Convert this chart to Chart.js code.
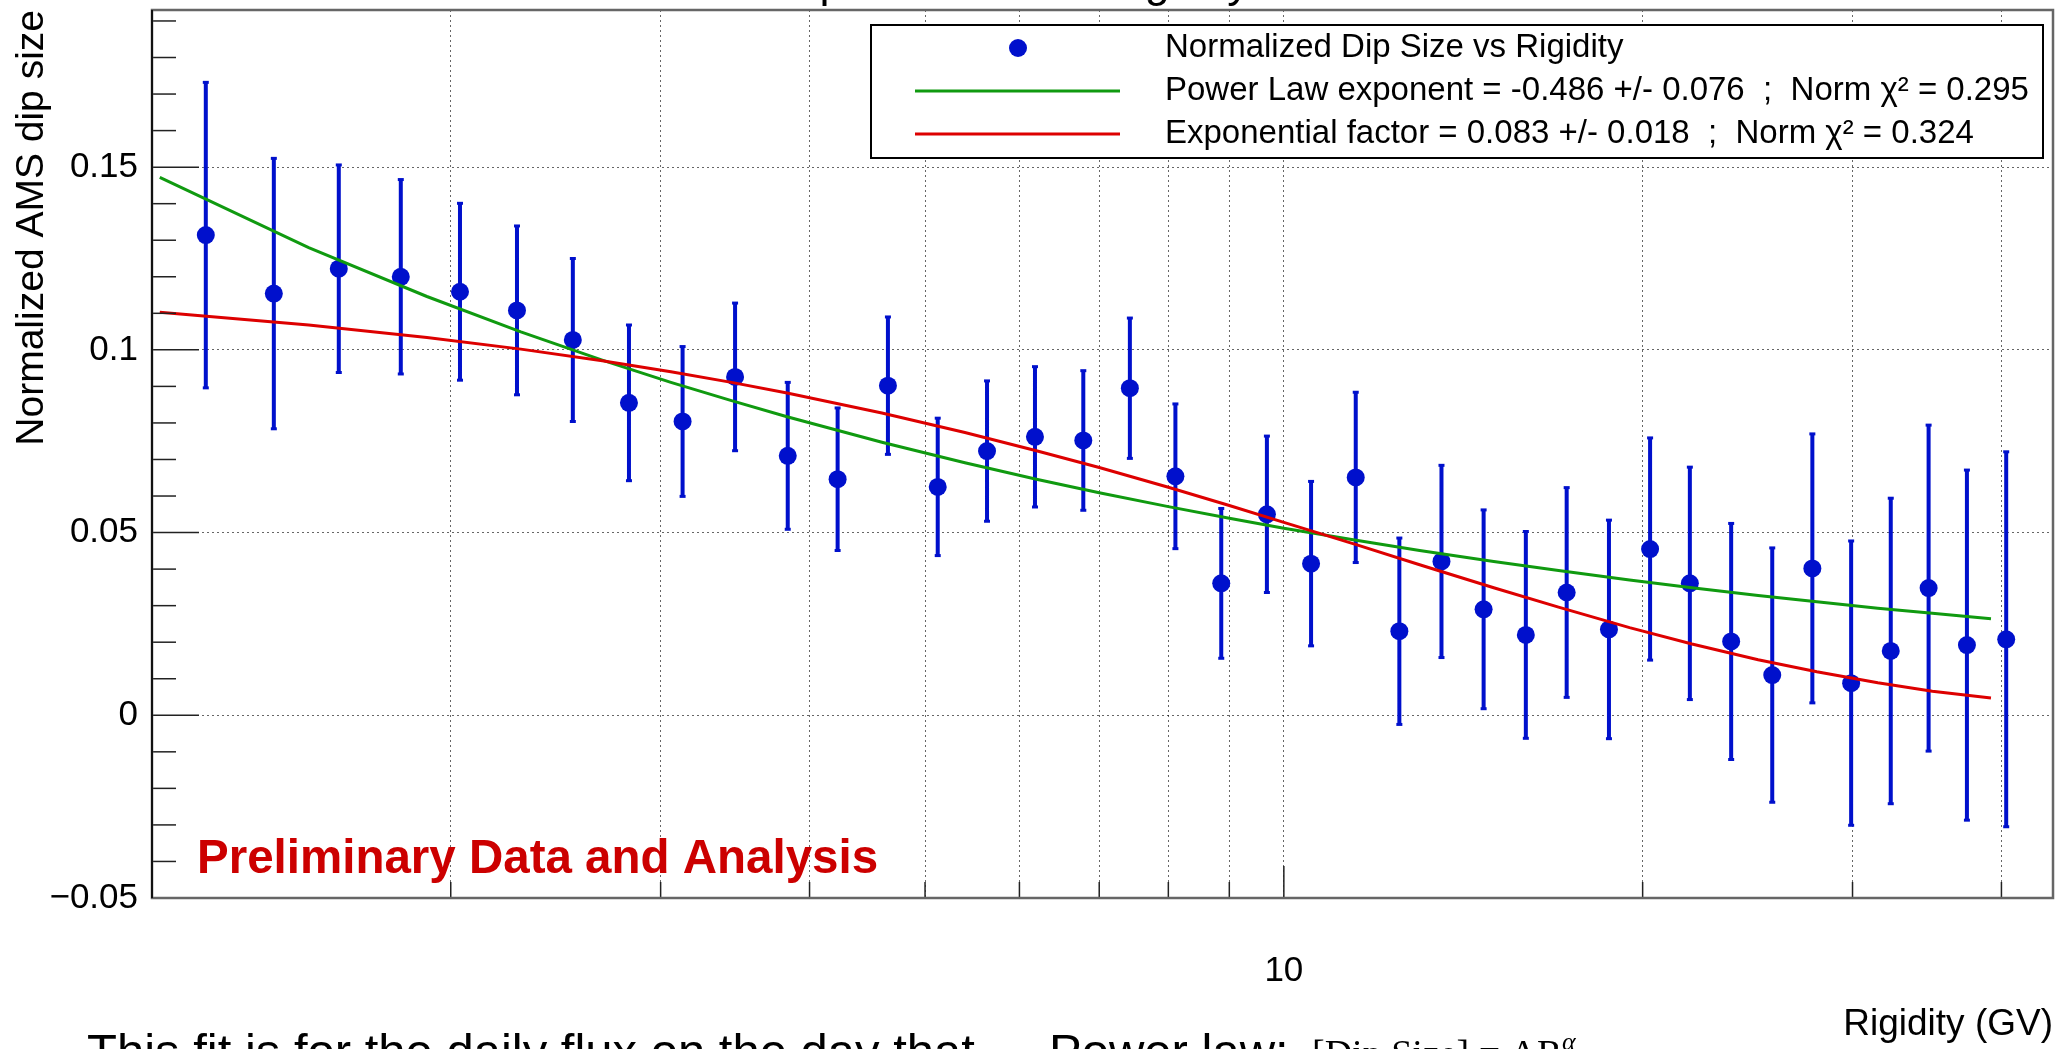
<!DOCTYPE html>
<html>
<head>
<meta charset="utf-8">
<script src="https://cdn.jsdelivr.net/npm/chart.js@4"></script>
<style>
  html, body { margin: 0; padding: 0; background: #fff; overflow: hidden; }
  canvas { display: block; }
</style>
</head>
<body>
<canvas id="chart" width="2062" height="1049"></canvas>
<script>
// Rigidity bins (GV) with normalized AMS dip size and its error
const rigidity = [1.246, 1.421, 1.611, 1.816, 2.036, 2.273, 2.532, 2.822, 3.130, 3.464, 3.835, 4.223, 4.654, 5.124, 5.636, 6.183, 6.788, 7.427, 8.110, 8.861, 9.678, 10.54, 11.49, 12.50, 13.56, 14.71, 15.96, 17.27, 18.74, 20.29, 21.91, 23.73, 25.69, 27.76, 29.92, 32.30, 34.75, 37.42, 40.37];
const dipSize = [0.1314, 0.1154, 0.1222, 0.1200, 0.1159, 0.1108, 0.1027, 0.0855, 0.0804, 0.0926, 0.0710, 0.0646, 0.0902, 0.0625, 0.0723, 0.0762, 0.0752, 0.0895, 0.0654, 0.0361, 0.0550, 0.0415, 0.0651, 0.0230, 0.0421, 0.0290, 0.0220, 0.0336, 0.0235, 0.0455, 0.0361, 0.0202, 0.0110, 0.0402, 0.0088, 0.0176, 0.0348, 0.0192, 0.0208];
const dipErr = [0.0418, 0.0370, 0.0284, 0.0266, 0.0242, 0.0231, 0.0223, 0.0213, 0.0205, 0.0202, 0.0201, 0.0195, 0.0188, 0.0188, 0.0192, 0.0192, 0.0191, 0.0192, 0.0198, 0.0205, 0.0214, 0.0225, 0.0233, 0.0255, 0.0263, 0.0272, 0.0283, 0.0287, 0.0299, 0.0304, 0.0318, 0.0323, 0.0348, 0.0368, 0.0389, 0.0418, 0.0446, 0.0479, 0.0513];

// Fitted curves sampled over the fit range
const fitRigidity = [1.14, 1.52, 1.91, 2.29, 2.68, 3.06, 3.44, 3.83, 4.6, 5.4, 6.2, 7.0, 8.0, 9.0, 10, 11.5, 13, 15, 17, 19.5, 22, 25, 28, 31.5, 35, 39.2];
const powerLawFit = [0.1472, 0.1280, 0.1146, 0.1049, 0.0972, 0.0911, 0.0861, 0.0817, 0.0747, 0.0691, 0.0646, 0.0609, 0.0571, 0.0539, 0.0512, 0.0479, 0.0451, 0.0421, 0.0396, 0.0370, 0.0349, 0.0328, 0.0311, 0.0293, 0.0279, 0.0264];
const expFit = [0.1103, 0.1068, 0.1034, 0.1002, 0.0970, 0.0940, 0.0911, 0.0882, 0.0827, 0.0774, 0.0724, 0.0678, 0.0624, 0.0574, 0.0528, 0.0467, 0.0412, 0.0349, 0.0296, 0.0240, 0.0195, 0.0152, 0.0119, 0.0089, 0.0066, 0.0047];

// Axis ticks
const xTickValues = [2, 3, 4, 5, 6, 7, 8, 9, 10, 20, 30, 40];
const xTickLabels = { 10: "10" };
const yMajorValues = [0.15, 0.1, 0.05, 0, -0.05];
const yMajorLabels = ["0.15", "0.1", "0.05", "0", "\u22120.05"];

const legendLabels = [
    "Normalized Dip Size vs Rigidity",
    "Power Law exponent = -0.486 +/- 0.076  ;  Norm \u03c7\u00b2 = 0.295",
    "Exponential factor = 0.083 +/- 0.018  ;  Norm \u03c7\u00b2 = 0.324"
];

const BLUE = "#0010cc";
const GREEN = "#109a10";
const RED = "#dd0000";
const SANS = "'Liberation Sans', Arial, sans-serif";
const SERIF = "'Liberation Serif', 'Times New Roman', serif";

function isMajorY(v) {
    return yMajorValues.some(m => Math.abs(m - v) < 1e-9);
}

// error bars as one broken line: low end, high end, gap
let errorSegments = [];
for (let i = 0; i < rigidity.length; i++) {
    errorSegments.push({ x: rigidity[i], y: dipSize[i] - dipErr[i] });
    errorSegments.push({ x: rigidity[i], y: dipSize[i] + dipErr[i] });
    errorSegments.push({ x: rigidity[i], y: null });
}

const points = rigidity.map((r, i) => ({ x: r, y: dipSize[i] }));
const powerLawPoints = fitRigidity.map((r, i) => ({ x: r, y: powerLawFit[i] }));
const expPoints = fitRigidity.map((r, i) => ({ x: r, y: expFit[i] }));

function line(ctx, x1, y1, x2, y2) {
    ctx.beginPath();
    ctx.moveTo(x1, y1);
    ctx.lineTo(x2, y2);
    ctx.stroke();
}

// frame, inner tick marks, legend and the free texts
const rootStyle = {
    id: "rootStyle",
    afterDraw(chart) {
        const { ctx, chartArea: a, scales: { x, y } } = chart;
        ctx.save();

        ctx.strokeStyle = "#222";
        ctx.lineWidth = 1.5;
        y.ticks.forEach(t => {
            const py = y.getPixelForValue(t.value);
            line(ctx, a.left, py, a.left + (isMajorY(t.value) ? 47 : 24), py);
        });
        x.ticks.forEach(t => {
            const px = x.getPixelForValue(t.value);
            line(ctx, px, a.bottom, px, a.bottom - (t.value === 10 ? 32 : 16));
        });

        ctx.strokeStyle = "#666";
        ctx.lineWidth = 2.5;
        ctx.strokeRect(a.left, a.top, a.right - a.left, a.bottom - a.top);
        ctx.strokeStyle = "#111";
        ctx.lineWidth = 2;
        line(ctx, a.left, a.top, a.left, a.bottom);

        // y axis title, right-aligned to the top of the axis
        ctx.save();
        ctx.translate(43, a.top);
        ctx.rotate(-Math.PI / 2);
        ctx.fillStyle = "#000";
        ctx.font = "39px " + SANS;
        ctx.textAlign = "right";
        ctx.textBaseline = "alphabetic";
        ctx.fillText("Normalized AMS dip size", 0, 0);
        ctx.restore();

        // legend box
        const lx = 871, ly = 25, lw = 1172, lh = 133;
        ctx.fillStyle = "#fff";
        ctx.fillRect(lx, ly, lw, lh);
        ctx.strokeStyle = "#000";
        ctx.lineWidth = 2;
        ctx.strokeRect(lx, ly, lw, lh);
        const rows = [48, 91, 134];
        ctx.fillStyle = BLUE;
        ctx.beginPath();
        ctx.arc(1018, rows[0], 9, 0, Math.PI * 2);
        ctx.fill();
        ctx.lineWidth = 3;
        ctx.strokeStyle = GREEN;
        line(ctx, 915, rows[1], 1120, rows[1]);
        ctx.strokeStyle = RED;
        line(ctx, 915, rows[2], 1120, rows[2]);
        ctx.fillStyle = "#000";
        ctx.font = "33px " + SANS;
        ctx.textBaseline = "middle";
        legendLabels.forEach((txt, i) => ctx.fillText(txt, 1165, rows[i]));

        // preliminary stamp
        ctx.fillStyle = "#cc0000";
        ctx.font = "bold 47.5px " + SANS;
        ctx.textBaseline = "alphabetic";
        ctx.fillText("Preliminary Data and Analysis", 197, 873);

        // title, clipped by the top edge
        ctx.fillStyle = "#000";
        ctx.font = "45px " + SANS;
        ctx.fillText("Normalized Dip Size versus Rigidity", 537, -3);

        // caption below the plot, clipped by the bottom edge
        ctx.font = "49px " + SANS;
        ctx.fillText("This fit is for the daily flux on the day that", 87, 1068);
        ctx.fillText("Power law:", 1049, 1068);
        ctx.font = "38px " + SERIF;
        ctx.fillText("[Dip Size] = AR", 1312, 1066);
        ctx.font = "italic 26px " + SERIF;
        ctx.fillText("\u03b1", 1562, 1050);

        ctx.restore();
    }
};

Chart.defaults.font.family = SANS;
Chart.defaults.color = "#000";

new Chart(document.getElementById("chart"), {
    type: "line",
    data: {
        datasets: [
            {
                label: "errors",
                data: errorSegments,
                borderColor: BLUE,
                borderWidth: 4,
                spanGaps: false,
                pointStyle: "line",
                pointRadius: 3,
                pointBorderWidth: 3,
                pointBorderColor: BLUE,
                order: 3
            },
            {
                label: legendLabels[0],
                data: points,
                showLine: false,
                pointStyle: "circle",
                pointRadius: 9,
                pointBackgroundColor: BLUE,
                pointBorderColor: BLUE,
                pointBorderWidth: 0,
                order: 2
            },
            {
                label: legendLabels[1],
                data: powerLawPoints,
                borderColor: GREEN,
                borderWidth: 3,
                pointRadius: 0,
                tension: 0,
                order: 1
            },
            {
                label: legendLabels[2],
                data: expPoints,
                borderColor: RED,
                borderWidth: 3,
                pointRadius: 0,
                tension: 0,
                order: 0
            }
        ]
    },
    options: {
        responsive: false,
        animation: false,
        devicePixelRatio: 1,
        layout: { padding: { top: 10, right: 6, left: 0, bottom: 0 } },
        plugins: { legend: { display: false }, tooltip: { enabled: false } },
        scales: {
            x: {
                type: "logarithmic",
                min: 1.123,
                max: 44.19,
                afterBuildTicks: s => { s.ticks = xTickValues.map(v => ({ value: v })); },
                afterFit: s => {
                    s.height = 151;
                    s.paddingLeft = 0;
                    s.paddingRight = 0;
                },
                ticks: {
                    autoSkip: false,
                    maxRotation: 0,
                    padding: 52,
                    font: { size: 35 },
                    color: "#000",
                    callback: v => xTickLabels[v] || ""
                },
                grid: { color: "rgba(0,0,0,0.6)", lineWidth: 1, drawTicks: false },
                border: { display: false, dash: [2, 3] },
                title: {
                    display: true,
                    text: "Rigidity (GV)",
                    align: "end",
                    font: { size: 37 },
                    color: "#000",
                    padding: { top: 0, bottom: 2 }
                }
            },
            y: {
                type: "linear",
                min: -0.05,
                max: 0.193,
                afterBuildTicks: s => {
                    let ticks = [];
                    for (let i = -5; i <= 19; i++) ticks.push({ value: i / 100 });
                    s.ticks = ticks;
                },
                afterFit: s => {
                    s.width = 152;
                    s.paddingTop = 0;
                    s.paddingBottom = 0;
                },
                ticks: {
                    autoSkip: false,
                    padding: 14,
                    font: { size: 35 },
                    color: "#000",
                    callback: v => {
                        const k = yMajorValues.findIndex(m => Math.abs(m - v) < 1e-9);
                        return k >= 0 ? yMajorLabels[k] : "";
                    }
                },
                grid: {
                    color: c => isMajorY(c.tick.value) ? "rgba(0,0,0,0.6)" : "rgba(0,0,0,0)",
                    lineWidth: 1,
                    drawTicks: false
                },
                border: { display: false, dash: [2, 3] },
                title: { display: false }
            }
        }
    },
    plugins: [rootStyle]
});
</script>
</body>
</html>
